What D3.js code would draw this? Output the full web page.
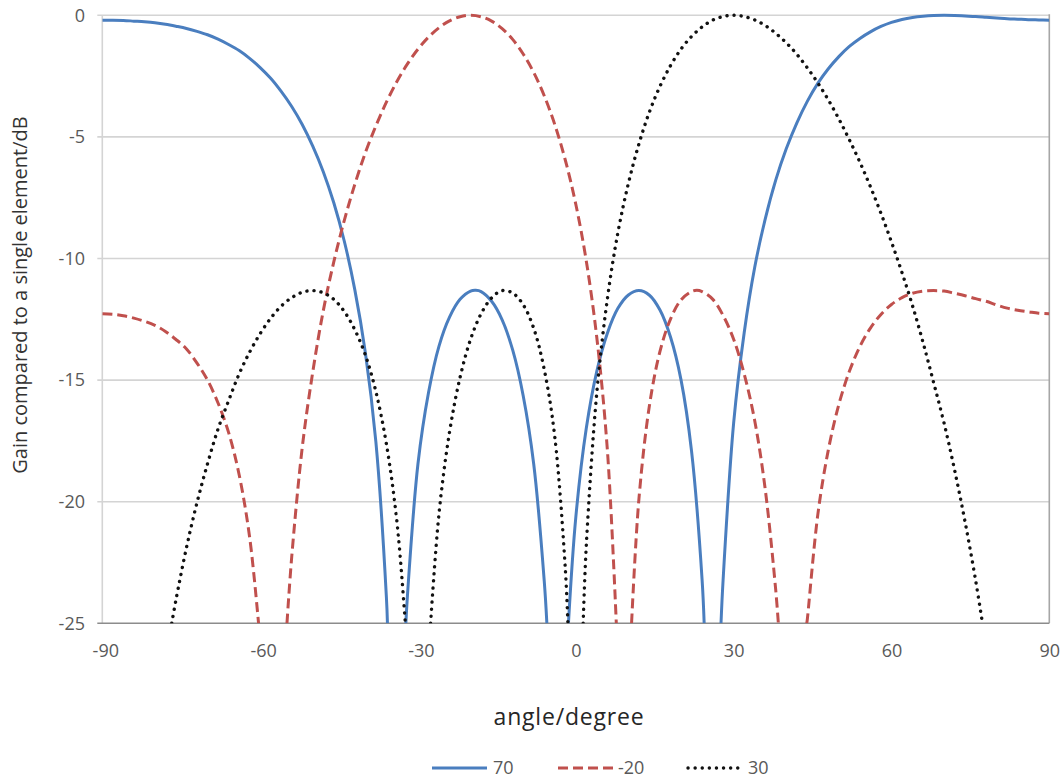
<!DOCTYPE html>
<html>
<head>
<meta charset="utf-8">
<script src="https://cdn.jsdelivr.net/npm/d3@7"></script>
<style>
  html, body { margin: 0; padding: 0; background: #ffffff; }
  svg { display: block; }
</style>
</head>
<body>
<svg id="chart" width="1062" height="783"></svg>
<script>
// Array factor of a 4-element array, gain relative to one element (dB),
// for three steering angles. Each entry is [angle in degrees, gain in dB];
// null splits a curve where it drops below the -25 dB floor of the plot.
const beam70 = [
  [-90,-0.20],[-88,-0.20],[-86,-0.21],[-84,-0.24],[-82,-0.27],[-80,-0.31],[-78,-0.37],
  [-76,-0.45],[-74,-0.54],[-72,-0.66],[-70,-0.80],[-68,-0.98],[-66,-1.20],[-64,-1.45],
  [-62,-1.77],[-60,-2.15],[-58,-2.59],[-56,-3.13],[-54,-3.75],[-52,-4.49],[-50,-5.38],
  [-48,-6.43],[-46,-7.71],[-44,-9.29],[-42,-11.29],[-40,-13.87],[-38,-17.54],[-36,-23.93],
  [-35.8,-25],
  null,
  [-32.3,-25],[-32,-23.86],[-30,-18.44],[-28,-15.52],[-26,-13.60],[-24,-12.41],[-22,-11.68],
  [-20,-11.34],[-19,-11.31],[-18,-11.36],[-16,-11.76],[-14,-12.52],[-12,-13.76],[-10,-15.64],
  [-8,-18.45],[-6,-23.26],[-5.5,-25],
  null,
  [-1.4,-25],[0,-20.64],[2,-16.97],[4,-14.63],[6,-13.07],[8,-12.05],[10,-11.50],[12,-11.32],
  [14,-11.51],[16,-12.12],[18,-13.23],[20,-14.99],[22,-17.92],[24,-23.19],[24.4,-25],
  null,
  [27.6,-25],[28,-23.21],[30,-16.77],[32,-13.06],[34,-10.37],[36,-8.38],[38,-6.78],[40,-5.49],
  [42,-4.43],[44,-3.54],[46,-2.80],[48,-2.20],[50,-1.70],[52,-1.28],[54,-0.95],[56,-0.68],
  [58,-0.46],[60,-0.29],[62,-0.17],[64,-0.09],[66,-0.04],[68,-0.01],[70,0],[72,-0.01],
  [74,-0.03],[76,-0.05],[78,-0.08],[80,-0.11],[82,-0.14],[84,-0.16],[86,-0.18],[88,-0.19],
  [90,-0.20]
];

const beamMinus20 = [
  [-90,-12.27],[-88,-12.29],[-86,-12.35],[-84,-12.45],[-82,-12.58],[-80,-12.75],[-78,-13.00],
  [-76,-13.33],[-74,-13.72],[-72,-14.30],[-70,-15.00],[-68,-15.94],[-66,-17.15],[-64,-18.88],
  [-62,-21.45],[-60.3,-25],
  null,
  [-54.9,-25],[-54,-22.28],[-52,-17.78],[-50,-14.67],[-48,-12.15],[-46,-10.14],[-44,-8.43],
  [-42,-6.95],[-40,-5.65],[-38,-4.55],[-36,-3.57],[-34,-2.72],[-32,-2.00],[-30,-1.39],
  [-28,-0.90],[-26,-0.51],[-24,-0.23],[-22,-0.06],[-20,0],[-18,-0.06],[-16,-0.24],
  [-14,-0.55],[-12,-0.99],[-10,-1.59],[-8,-2.35],[-6,-3.31],[-4,-4.49],[-2,-5.95],[0,-7.77],
  [2,-10.11],[4,-13.27],[6,-17.87],[7.7,-25],
  null,
  [10.6,-25],[12,-19.88],[14,-16.04],[16,-13.82],[18,-12.49],[20,-11.70],[22,-11.36],
  [23,-11.31],[24,-11.36],[26,-11.67],[28,-12.34],[30,-13.32],[32,-14.74],[34,-16.66],
  [36,-19.48],[38,-23.63],[38.5,-25],
  null,
  [43.9,-25],[44,-24.85],[46,-20.53],[48,-17.87],[50,-16.00],[52,-14.64],[54,-13.62],
  [56,-12.86],[58,-12.30],[60,-11.89],[62,-11.61],[64,-11.43],[66,-11.34],[68,-11.32],
  [70,-11.34],[72,-11.43],[74,-11.53],[76,-11.65],[78,-11.76],[80,-11.91],[82,-12.04],
  [84,-12.13],[86,-12.19],[88,-12.25],[90,-12.27]
];

const beam30 = [
  [-76.8,-25],[-76,-24.04],[-74,-21.89],[-72,-20.04],[-70,-18.44],[-68,-17.01],[-66,-15.85],
  [-64,-14.75],[-62,-13.85],[-60,-13.09],[-58,-12.46],[-56,-11.96],[-54,-11.61],[-52,-11.39],
  [-50,-11.32],[-48,-11.41],[-46,-11.68],[-44,-12.18],[-42,-12.93],[-40,-13.97],[-38,-15.47],
  [-36,-17.63],[-34,-20.82],[-32.4,-25],
  null,
  [-27.6,-25],[-26,-20.49],[-24,-17.14],[-22,-14.89],[-20,-13.32],[-18,-12.27],[-16,-11.62],
  [-14,-11.32],[-12,-11.42],[-10,-11.90],[-8,-12.87],[-6,-14.56],[-4,-17.32],[-2,-22.73],
  [-1.5,-25],
  null,
  [1.4,-25],[2,-21.78],[4,-15.50],[6,-11.66],[8,-8.94],[10,-6.91],[12,-5.29],[14,-3.97],
  [16,-2.92],[18,-2.07],[20,-1.39],[22,-0.87],[24,-0.48],[26,-0.20],[28,-0.05],[30,0],
  [32,-0.05],[34,-0.19],[36,-0.42],[38,-0.74],[40,-1.13],[42,-1.60],[44,-2.16],[46,-2.78],
  [48,-3.48],[50,-4.26],[52,-5.12],[54,-6.04],[56,-7.05],[58,-8.14],[60,-9.32],[62,-10.58],
  [64,-11.94],[66,-13.45],[68,-15.09],[70,-16.77],[72,-18.70],[74,-20.84],[76,-23.24],
  [77.3,-25]
];

const xTicks = [-90, -60, -30, 0, 30, 60, 90];
const yTicks = [0, -5, -10, -15, -20, -25];

const seriesNames = ["70", "-20", "30"];
const seriesData = [beam70, beamMinus20, beam30];

const styles = [
  { color: "#4a7ebf", width: 3,   dash: null,    cap: "butt" },
  { color: "#c0504d", width: 3,   dash: "10,5",  cap: "butt" },
  { color: "#111111", width: 3.4, dash: "0.1,7", cap: "round" }
];

const svg = d3.select("#chart");
const plot = { left: 102.3, right: 1049.3, top: 15.3, bottom: 623.3 };

const x = d3.scaleLinear().domain([-90, 90]).range([plot.left, plot.right]);
const y = d3.scaleLinear().domain([-25, 0]).range([plot.bottom, plot.top]);

const font = "'Segoe UI', 'Open Sans', 'Noto Sans', sans-serif";
const plainNumber = d => String(d);

// horizontal gridlines (with short outward ticks on the left)
svg.append("g")
  .selectAll("line")
  .data(yTicks.filter(v => v !== -25))
  .join("line")
  .attr("x1", plot.left - 5)
  .attr("x2", plot.right)
  .attr("y1", d => y(d))
  .attr("y2", d => y(d))
  .attr("stroke", "#d4d4d4")
  .attr("stroke-width", 1.6);

// left border of the plot area
svg.append("line")
  .attr("x1", plot.left).attr("x2", plot.left)
  .attr("y1", plot.top).attr("y2", plot.bottom)
  .attr("stroke", "#d4d4d4").attr("stroke-width", 1.6);

// right border of the plot area
svg.append("line")
  .attr("x1", plot.right).attr("x2", plot.right)
  .attr("y1", plot.top - 1).attr("y2", plot.bottom)
  .attr("stroke", "#a6a6a6").attr("stroke-width", 1.6);

// bottom axis line at -25 dB
svg.append("line")
  .attr("x1", plot.left - 5).attr("x2", plot.right)
  .attr("y1", y(-25)).attr("y2", y(-25))
  .attr("stroke", "#8c8c8c").attr("stroke-width", 1.4);

// tick labels
const yAxis = d3.axisLeft(y).tickValues(yTicks).tickSize(0).tickPadding(plot.left - 85)
  .tickFormat(plainNumber);
const gy = svg.append("g").attr("transform", `translate(${plot.left},0)`).call(yAxis);
gy.select(".domain").remove();
gy.selectAll("text").attr("fill", "#595959").style("font-family", font).style("font-size", "18px");

const xAxis = d3.axisBottom(x).tickValues(xTicks).tickSize(0).tickPadding(21)
  .tickFormat(plainNumber);
const gx = svg.append("g").attr("transform", `translate(0,${plot.bottom})`).call(xAxis);
gx.select(".domain").remove();
gx.selectAll("text")
  .attr("dx", d => d < 0 ? 3 : 0)
  .attr("fill", "#595959").style("font-family", font).style("font-size", "18px");

// clip curves to the plot area
svg.append("defs").append("clipPath").attr("id", "plotClip")
  .append("rect")
  .attr("x", plot.left).attr("y", plot.top - 3)
  .attr("width", plot.right - plot.left).attr("height", plot.bottom - plot.top + 3);

const line = d3.line()
  .defined(d => d !== null)
  .x(d => x(d[0]))
  .y(d => y(d[1]))
  .curve(d3.curveCatmullRom.alpha(0.5));

const curves = svg.append("g").attr("clip-path", "url(#plotClip)");
seriesData.forEach((data, i) => {
  const s = styles[i];
  curves.append("path")
    .datum(data)
    .attr("d", line)
    .attr("fill", "none")
    .attr("stroke", s.color)
    .attr("stroke-width", s.width)
    .attr("stroke-linecap", s.cap)
    .attr("stroke-linejoin", "round")
    .attr("stroke-dasharray", s.dash);
});

// axis titles
svg.append("text")
  .attr("transform", `translate(27,295) rotate(-90)`)
  .attr("text-anchor", "middle")
  .attr("fill", "#333333")
  .style("font-family", font)
  .style("font-size", "20px")
  .text("Gain compared to a single element/dB");

svg.append("text")
  .attr("x", 569)
  .attr("y", 725)
  .attr("text-anchor", "middle")
  .attr("fill", "#262626")
  .style("font-family", font)
  .style("font-size", "23px")
  .style("letter-spacing", "0.8px")
  .text("angle/degree");

// legend
const legendItems = [
  { x1: 432, x2: 487, tx: 493 },
  { x1: 558, x2: 615, tx: 618 },
  { x1: 688, x2: 741, tx: 748 }
];
const legendY = 768;
const legend = svg.append("g");
seriesNames.forEach((name, i) => {
  const s = styles[i];
  const p = legendItems[i];
  legend.append("line")
    .attr("x1", p.x1).attr("x2", p.x2)
    .attr("y1", legendY).attr("y2", legendY)
    .attr("stroke", s.color)
    .attr("stroke-width", s.width)
    .attr("stroke-linecap", s.cap)
    .attr("stroke-dasharray", s.dash);
  legend.append("text")
    .attr("x", p.tx)
    .attr("y", legendY)
    .attr("dy", "0.35em")
    .attr("fill", "#595959")
    .style("font-family", font)
    .style("font-size", "18px")
    .text(name);
});
</script>
</body>
</html>
